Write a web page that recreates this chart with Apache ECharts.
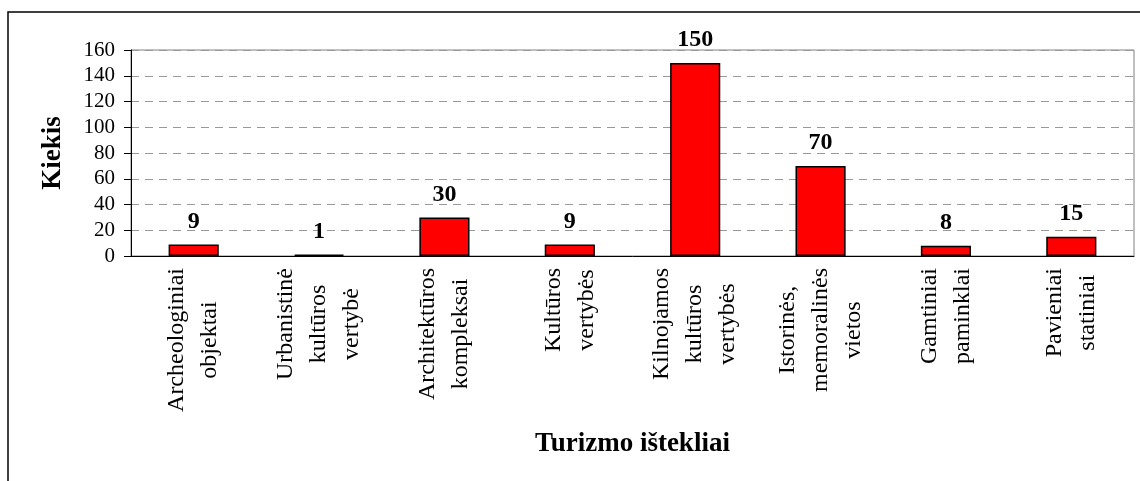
<!DOCTYPE html>
<html>
<head>
<meta charset="utf-8">
<script src="https://cdn.jsdelivr.net/npm/echarts@6/dist/echarts.min.js"></script>
<style>
  html, body { margin: 0; padding: 0; background: #fff; }
  #chart { width: 1140px; height: 481px; }
</style>
</head>
<body>
<div id="chart"></div>
<script>
// duomenys
var categories = [
    'Archeologiniai\nobjektai',
    'Urbanistinė\nkultūros\nvertybė',
    'Architektūros\nkompleksai',
    'Kultūros\nvertybės',
    'Kilnojamos\nkultūros\nvertybės',
    'Istorinės,\nmemoralinės\nvietos',
    'Gamtiniai\npaminklai',
    'Pavieniai\nstatiniai'
];
var values = [9, 1, 30, 9, 150, 70, 8, 15];
var yTicks = [0, 20, 40, 60, 80, 100, 120, 140, 160];

var serif = '"Liberation Serif", "Times New Roman", serif';

var chart = echarts.init(document.getElementById('chart'));
chart.setOption({
    animation: false,
    textStyle: {fontFamily: serif, color: '#000'},
    graphic: [{
        type: 'rect',
        shape: {x: 8, y: 12, width: 1200, height: 600},
        style: {fill: 'none', stroke: '#000', lineWidth: 1.5}
    }],
    grid: {
        left: 131, right: 6, top: 50, bottom: 225,
        show: true, borderColor: '#808080', borderWidth: 1
    },
    xAxis: {
        type: 'category',
        data: categories,
        name: 'Turizmo ištekliai',
        nameLocation: 'middle',
        nameGap: 175,
        nameTextStyle: {fontFamily: serif, fontWeight: 'bold', fontSize: 27, color: '#000'},
        axisLine: {lineStyle: {color: '#000', width: 1}},
        axisTick: {length: 6, lineStyle: {color: '#000'}},
        axisLabel: {
            interval: 0,
            rotate: 90,
            margin: 12,
            lineHeight: 33,
            fontFamily: serif,
            fontSize: 24,
            color: '#000',
            formatter: function (v) {
                return v.split('\n').map(function (l) { return '{c|' + l + '}'; }).join('\n');
            },
            rich: {
                c: {align: 'center', fontFamily: serif, fontSize: 24, lineHeight: 33, color: '#000'}
            }
        }
    },
    yAxis: {
        type: 'value',
        min: yTicks[0],
        max: yTicks[yTicks.length - 1],
        interval: 20,
        name: 'Kiekis',
        nameLocation: 'middle',
        nameGap: 64,
        nameRotate: 90,
        nameTextStyle: {fontFamily: serif, fontWeight: 'bold', fontSize: 27, color: '#000'},
        axisLine: {show: true, lineStyle: {color: '#000', width: 1}},
        axisTick: {show: true, length: 7, lineStyle: {color: '#000'}},
        axisLabel: {margin: 16, fontFamily: serif, fontSize: 21, color: '#000'},
        splitLine: {lineStyle: {color: '#999', type: [8, 6], width: 1}}
    },
    series: [{
        type: 'bar',
        data: values,
        barWidth: '40%',
        itemStyle: {color: '#ff0000', borderColor: '#000', borderWidth: 1.5},
        label: {
            show: true,
            position: 'top',
            distance: 11,
            fontFamily: serif,
            fontWeight: 'bold',
            fontSize: 24,
            color: '#000'
        }
    }]
});
</script>
</body>
</html>
